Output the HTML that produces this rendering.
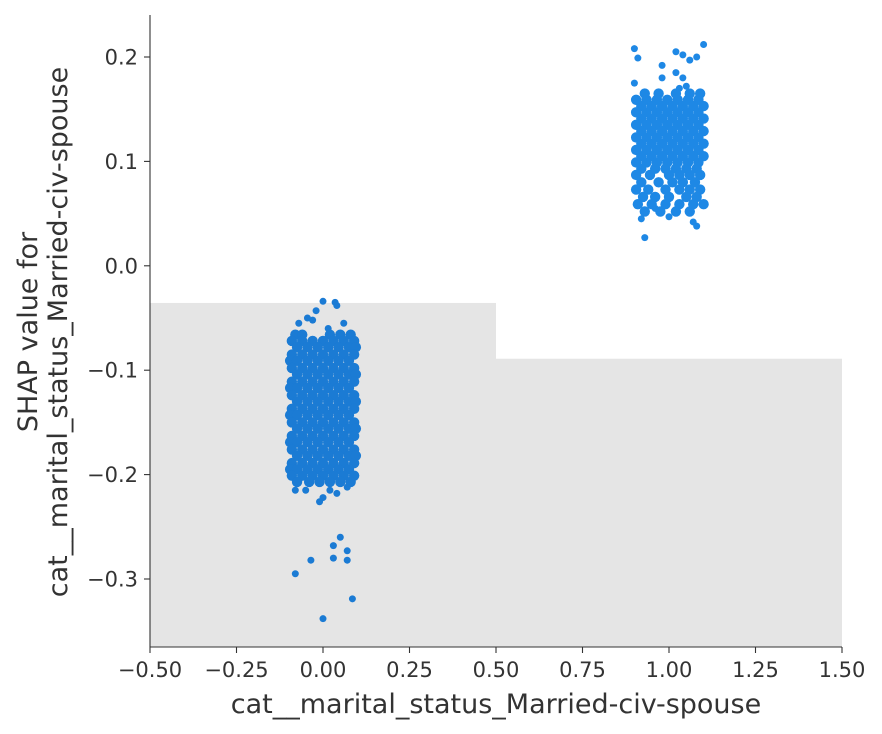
<!DOCTYPE html>
<html><head><meta charset="utf-8"><style>
html,body{margin:0;padding:0;background:#fff;}
svg{display:block;font-family:"DejaVu Sans","Liberation Sans",sans-serif;}
</style></head><body>
<svg id="chart" width="882" height="734" viewBox="0 0 882 734" xmlns="http://www.w3.org/2000/svg"></svg>
<script>
const xTicks = [-0.5,-0.25,0,0.25,0.5,0.75,1.0,1.25,1.5];
const xTickLabels = ["\u22120.50","\u22120.25","0.00","0.25","0.50","0.75","1.00","1.25","1.50"];
const yTicks = [0.2,0.1,0.0,-0.1,-0.2,-0.3];
const yTickLabels = ["0.2","0.1","0.0","\u22120.1","\u22120.2","\u22120.3"];
const histBinEdges = [-0.5,0.5,1.5];
const histTops = [-0.0356,-0.089];
const c0Rows = [
[-0.066,[-0.08,-0.06,0.02,0.05,0.08]],
[-0.072,[-0.09,-0.06,-0.03,0,0.03,0.06,0.09]],
[-0.078,[-0.075,-0.045,-0.015,0.015,0.045,0.075,0.095]],
[-0.085,[-0.09,-0.06,-0.03,0,0.03,0.06,0.09]],
[-0.091,[-0.095,-0.075,-0.045,-0.015,0.015,0.045,0.075]],
[-0.098,[-0.09,-0.06,-0.03,0,0.03,0.06,0.09]],
[-0.104,[-0.075,-0.045,-0.015,0.015,0.045,0.075,0.095]],
[-0.111,[-0.09,-0.06,-0.03,0,0.03,0.06,0.09]],
[-0.117,[-0.095,-0.075,-0.045,-0.015,0.015,0.045,0.075]],
[-0.124,[-0.09,-0.06,-0.03,0,0.03,0.06,0.09]],
[-0.130,[-0.075,-0.045,-0.015,0.015,0.045,0.075,0.095]],
[-0.137,[-0.09,-0.06,-0.03,0,0.03,0.06,0.09]],
[-0.143,[-0.095,-0.075,-0.045,-0.015,0.015,0.045,0.075]],
[-0.150,[-0.09,-0.06,-0.03,0,0.03,0.06,0.09]],
[-0.156,[-0.075,-0.045,-0.015,0.015,0.045,0.075,0.095]],
[-0.163,[-0.09,-0.06,-0.03,0,0.03,0.06,0.09]],
[-0.169,[-0.095,-0.075,-0.045,-0.015,0.015,0.045,0.075]],
[-0.176,[-0.09,-0.06,-0.03,0,0.03,0.06,0.09]],
[-0.182,[-0.075,-0.045,-0.015,0.015,0.045,0.075,0.095]],
[-0.189,[-0.09,-0.06,-0.03,0,0.03,0.06,0.09]],
[-0.195,[-0.095,-0.075,-0.045,-0.015,0.015,0.045,0.075]],
[-0.201,[-0.09,-0.06,-0.03,0,0.03,0.06,0.09]],
[-0.207,[-0.075,-0.04,-0.01,0.02,0.05,0.08]]
];
const c0Extra = [[-0.08,-0.295],[-0.035,-0.282],[0.05,-0.26],[0.03,-0.268],[0.03,-0.28],[0.07,-0.273],[0.07,-0.282],[0.085,-0.319],[0,-0.338],[-0.01,-0.226],[0,-0.222],[0,-0.034],[0.035,-0.035],[0.04,-0.038],[-0.02,-0.043],[-0.03,-0.052],[0.06,-0.055],[-0.045,-0.05],[-0.07,-0.055],[0.015,-0.06],[-0.08,-0.215],[0.07,-0.212],[-0.05,-0.215],[0.02,-0.215],[0.04,-0.218]];
const c1Rows = [
[0.165,[0.93,0.97,1.02,1.06,1.09]],
[0.159,[0.905,0.935,0.965,0.995,1.025,1.055,1.085]],
[0.153,[0.92,0.95,0.98,1.01,1.04,1.07,1.1]],
[0.147,[0.905,0.935,0.965,0.995,1.025,1.055,1.085]],
[0.141,[0.92,0.95,0.98,1.01,1.04,1.07,1.1]],
[0.135,[0.905,0.935,0.965,0.995,1.025,1.055,1.085]],
[0.129,[0.92,0.95,0.98,1.01,1.04,1.07,1.1]],
[0.123,[0.905,0.935,0.965,0.995,1.025,1.055,1.085]],
[0.117,[0.92,0.95,0.98,1.01,1.04,1.07,1.1]],
[0.111,[0.905,0.935,0.965,0.995,1.025,1.055,1.085]],
[0.105,[0.92,0.95,0.98,1.01,1.04,1.07,1.1]],
[0.099,[0.905,0.935,0.965,0.995,1.025,1.055,1.085]],
[0.093,[0.92,0.96,0.99,1.02,1.05,1.08]],
[0.087,[0.905,0.945,1.0,1.03,1.06,1.09]],
[0.080,[0.92,0.97,1.01,1.04,1.075]],
[0.073,[0.905,0.94,0.99,1.03,1.06,1.09]],
[0.066,[0.925,0.96,1.0,1.05,1.08]],
[0.059,[0.91,0.95,0.99,1.03,1.07,1.1]],
[0.052,[0.93,0.975,1.02,1.06]]
];
const c1Extra = [[0.9,0.208],[0.91,0.199],[0.98,0.192],[1.02,0.205],[1.04,0.202],[1.06,0.197],[1.08,0.2],[1.1,0.212],[1.02,0.185],[1.04,0.18],[0.98,0.18],[0.9,0.175],[0.93,0.027],[1.08,0.038],[1.07,0.042],[0.92,0.045],[1.0,0.047],[1.1,0.06],[0.96,0.055],[1.03,0.17],[1.05,0.172]];

const NS = "http://www.w3.org/2000/svg";
const svg = document.getElementById("chart");
const L=150,R=842,T=15,B=647;
function sx(v){return L+(v+0.5)/2.0*(R-L);}
function sy(v){return 57+(0.2-v)*1044;}
function mk(tag,attrs,parent){const e=document.createElementNS(NS,tag);for(const k in attrs)e.setAttribute(k,attrs[k]);(parent||svg).appendChild(e);return e;}

const gh = mk("g",{});


for(let i=0;i<histTops.length;i++){
  const r=mk("rect",{x:sx(histBinEdges[i]),y:sy(histTops[i]),width:sx(histBinEdges[i+1])-sx(histBinEdges[i]),height:B-sy(histTops[i]),fill:"#e5e5e5"},gh);
  
  
}
function drawCluster(rows,extra,color,name){
  const g=mk("g",{fill:color});
  
  
  rows.forEach(([y,xs])=>xs.forEach(x=>{
    const c=mk("circle",{cx:sx(x),cy:sy(y),r:5.2},g);
    
    
  }));
  extra.forEach(([x,y])=>{
    const c=mk("circle",{cx:sx(x),cy:sy(y),r:3.5},g);
    
    
  });
}
drawCluster(c0Rows,c0Extra,"#1b7bd4","points-value-0");
drawCluster(c1Rows,c1Extra,"#1e88e5","points-value-1");

const ax=mk("g",{stroke:"#333",fill:"none","stroke-width":1.1});


mk("line",{x1:L,y1:T,x2:L,y2:B},ax);
mk("line",{x1:L,y1:B,x2:R,y2:B},ax);
xTicks.forEach((t,i)=>{
  mk("line",{x1:sx(t),y1:B,x2:sx(t),y2:B+6},ax);
  const tx=mk("text",{x:sx(t),y:B+30,"text-anchor":"middle","font-size":21,fill:"#333"});
  tx.textContent=xTickLabels[i];
  
  
});
yTicks.forEach((t,i)=>{
  mk("line",{x1:L-6,y1:sy(t),x2:L,y2:sy(t)},ax);
  const tx=mk("text",{x:L-12,y:sy(t)+7.5,"text-anchor":"end","font-size":21,fill:"#333"});
  tx.textContent=yTickLabels[i];
  
  
});
const xl=mk("text",{x:496,y:713,"text-anchor":"middle","font-size":27,fill:"#333"});
xl.textContent="cat__marital_status_Married-civ-spouse";


const yl=mk("text",{transform:"translate(37,332) rotate(-90)","text-anchor":"middle","font-size":27,fill:"#333"});


const t1=mk("tspan",{x:0,y:0},yl);t1.textContent="SHAP value for";
const t2=mk("tspan",{x:0,y:30},yl);t2.textContent="cat__marital_status_Married-civ-spouse";
</script>
</body></html>
